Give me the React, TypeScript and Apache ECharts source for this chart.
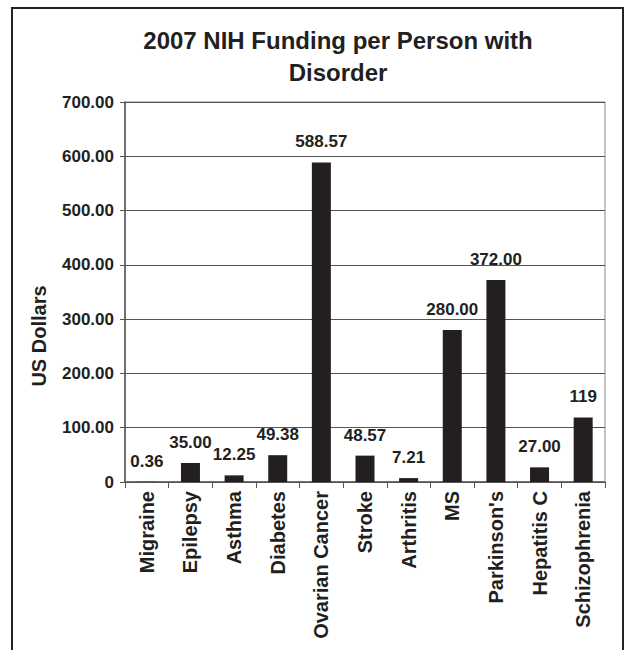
import React, { useEffect, useRef } from "react";
import * as echarts from "echarts";

const categories = [
  "Migraine",
  "Epilepsy",
  "Asthma",
  "Diabetes",
  "Ovarian Cancer",
  "Stroke",
  "Arthritis",
  "MS",
  "Parkinson's",
  "Hepatitis C",
  "Schizophrenia",
];
const values = [0.36, 35.0, 12.25, 49.38, 588.57, 48.57, 7.21, 280.0, 372.0, 27.0, 119];
const valueLabels = ["0.36", "35.00", "12.25", "49.38", "588.57", "48.57", "7.21", "280.00", "372.00", "27.00", "119"];
const yAxisTitle = "US Dollars";

const FONT = "'Liberation Sans', Arial, Helvetica, sans-serif";
const INK = "#231f20";

export default function App() {
  const ref = useRef<HTMLDivElement>(null);
  useEffect(() => {
    if (!ref.current) return;
    const chart = echarts.init(ref.current, undefined, { renderer: "svg" });
    chart.setOption({
      animation: false,
      backgroundColor: "#ffffff",
      title: {
        text: "2007 NIH Funding per Person with\nDisorder",
        left: 333,
        textAlign: "center",
        top: 19,
        textStyle: {
          fontFamily: FONT,
          fontSize: 24,
          fontWeight: "bold",
          color: INK,
          lineHeight: 32,
        },
      },
      graphic: [
        {
          type: "rect",
          shape: { x: 12, y: 8, width: 611, height: 700 },
          style: { fill: "none", stroke: "#222", lineWidth: 2 },
          silent: true,
          z: 100,
        },
        {
          type: "text",
          x: 39,
          y: 336,
          rotation: Math.PI / 2,
          style: {
            text: yAxisTitle,
            fontFamily: FONT,
            fontSize: 20,
            fontWeight: "bold",
            fill: INK,
            align: "center",
            verticalAlign: "middle",
          },
        },
      ],
      grid: {
        left: 125,
        right: 19,
        top: 102,
        bottom: 168,
        show: true,
        borderColor: "#888",
        borderWidth: 1,
        backgroundColor: "transparent",
      },
      xAxis: {
        type: "category",
        data: categories,
        axisLine: { show: true, lineStyle: { color: "#555", width: 1.5 } },
        axisTick: { show: true, alignWithLabel: false, length: 6, lineStyle: { color: "#555" } },
        axisLabel: {
          rotate: 90,
          interval: 0,
          margin: 9,
          fontFamily: FONT,
          fontSize: 20,
          fontWeight: "bold",
          color: INK,
        },
      },
      yAxis: {
        type: "value",
        min: 0,
        max: 700,
        interval: 100,
        axisLine: { show: true, lineStyle: { color: "#555", width: 1.5 } },
        axisTick: { show: true, length: 5, lineStyle: { color: "#555" } },
        splitLine: { show: true, lineStyle: { color: "#555", width: 1 } },
        axisLabel: {
          margin: 11,
          fontFamily: FONT,
          fontSize: 17,
          fontWeight: "bold",
          color: INK,
          formatter: (v: number) => (v === 0 ? "0" : v.toFixed(2)),
        },
      },
      series: [
        {
          type: "bar",
          data: values,
          barWidth: 19,
          itemStyle: { color: INK },
          label: {
            show: true,
            position: "top",
            distance: 12,
            fontFamily: FONT,
            fontSize: 17,
            fontWeight: "bold",
            color: INK,
            formatter: (p: any) => valueLabels[p.dataIndex],
          },
        },
      ],
    });
    return () => chart.dispose();
  }, []);
  return (
    <div
      ref={ref}
      style={{ position: "fixed", left: 0, top: 0, width: 624, height: 650 }}
    />
  );
}
